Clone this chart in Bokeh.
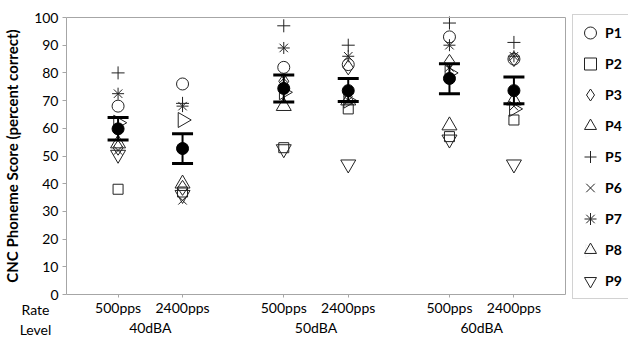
import numpy as np
from bokeh.plotting import figure
from bokeh.models import (FixedTicker, LinearAxis, Range1d, Label, Legend, LegendItem)
from bokeh.embed import file_html
from bokeh.resources import INLINE

# ---- data ----
rates = ["500pps", "2400pps", "500pps", "2400pps", "500pps", "2400pps"]
levels = ["40dBA", "50dBA", "60dBA"]
participants = ["P1", "P2", "P3", "P4", "P5", "P6", "P7", "P8", "P9"]
y_ticks = [0, 10, 20, 30, 40, 50, 60, 70, 80, 90, 100]

P1 = [68, 76, 82, 83, 93, 85]
P2 = [38, 37, 53, 67, 57, 63]
P3 = [53, 38.5, 77, 82, 84, 85]
P4 = [54.5, 40, 68, 70, 61, 70]
P5 = [80, 69, 97, 90, 98, 91]
P6 = [52, 34, 78, 70, 82, 68]
P7 = [72.5, 68, 89, 86, 90, 86]
P8 = [62, 63, 73, 70, 80, 67]
P9 = [50.5, 36, 52.5, 47, 56, 47]

mean_score = [59.8, 52.7, 74.4, 73.6, 78.0, 73.6]
upper_ci = [63.9, 58.0, 79.2, 78.0, 83.3, 78.5]
lower_ci = [55.8, 47.3, 69.5, 69.7, 72.5, 68.9]

# ---- layout (pixels on the canvas) ----
W, H = 628, 339
FL, FR, FT, FB = 66, 565, 17, 294          # plotting area edges
X_LO, X_HI = 0.2, 7.94                      # data x at plotting-area edges
Y_LO, Y_HI = 0, 100
GROUP_STEP = 2.57
xs = [round(g * GROUP_STEP + r + 1, 2) for g in range(len(levels)) for r in range(2)]
group_centers = [round(g * GROUP_STEP + 1.5, 2) for g in range(len(levels))]

ppx = (FR - FL) / (X_HI - X_LO)
ppy = (FB - FT) / (Y_HI - Y_LO)
def x_of(px):
    return X_LO + (px - FL) / ppx
def y_of(py):
    return Y_LO + (FB - py) / ppy

FONT = "Lato"
INK = "#222222"
GRAY = "#a6a6a6"

p = figure(width=W, height=H, output_backend="svg", toolbar_location=None,
           x_axis_type=None, y_axis_type=None,
           x_range=Range1d(x_of(0), x_of(W)), y_range=Range1d(y_of(H), y_of(0)),
           min_border=0)
p.min_border_left = p.min_border_right = p.min_border_top = p.min_border_bottom = 0
p.title.visible = False
p.outline_line_color = None
p.background_fill_color = "white"
p.border_fill_color = "white"

def style_text(ax):
    ax.major_label_text_font = FONT
    ax.major_label_text_font_size = "14px"
    ax.major_label_text_color = "black"
    ax.minor_tick_line_color = None

# y axis
yax = LinearAxis(fixed_location=X_LO, bounds=(Y_LO, Y_HI), ticker=FixedTicker(ticks=y_ticks))
style_text(yax)
yax.axis_label = "CNC Phoneme Score (percent correct)"
yax.axis_label_text_font = FONT
yax.axis_label_text_font_style = "bold"
yax.axis_label_text_font_size = "15px"
yax.axis_label_text_color = "black"
yax.axis_label_standoff = 10
yax.axis_line_color = GRAY
yax.major_tick_line_color = GRAY
yax.major_tick_in = 0
yax.major_tick_out = 4
yax.major_label_standoff = 4
p.add_layout(yax, "left")

# x axis (rate)
xax = LinearAxis(fixed_location=Y_LO, bounds=(X_LO, X_HI), ticker=FixedTicker(ticks=xs),
                 major_label_overrides={x: r for x, r in zip(xs, rates)})
style_text(xax)
xax.axis_line_color = GRAY
xax.major_tick_line_color = GRAY
xax.major_tick_in = 0
xax.major_tick_out = 3
xax.major_label_standoff = 1
p.add_layout(xax, "below")

# second x axis (level)
lax = LinearAxis(fixed_location=y_of(318), ticker=FixedTicker(ticks=group_centers),
                 major_label_overrides={x: l for x, l in zip(group_centers, levels)})
style_text(lax)
lax.axis_line_color = None
lax.major_tick_line_color = None
lax.major_tick_in = 0
lax.major_tick_out = 0
lax.major_label_standoff = 0
p.add_layout(lax, "below")

# top and right borders of the plotting area
tax = LinearAxis(fixed_location=Y_HI, bounds=(X_LO, X_HI), ticker=FixedTicker(ticks=[]))
rax = LinearAxis(fixed_location=X_HI, bounds=(Y_LO, Y_HI), ticker=FixedTicker(ticks=[]))
for ax in (tax, rax):
    ax.axis_line_color = GRAY
    ax.major_tick_line_color = None
    ax.minor_tick_line_color = None
    ax.major_label_text_font_size = "0px"
p.add_layout(tax, "above")
p.add_layout(rax, "right")

for txt, py in (("Rate", 309), ("Level", 329)):
    p.add_layout(Label(x=x_of(35), y=y_of(py), text=txt,
                       text_align="center", text_baseline="middle",
                       text_font=FONT, text_font_size="14px", text_color="black"))

# participant markers
series = [P1, P2, P3, P4, P5, P6, P7, P8, P9]
markers = ["circle", "square", "diamond", "triangle", "cross", "x", "asterisk", "triangle", "inverted_triangle"]
sizes = [12, 10, 15, 15, 13, 12, 12, 15, 15]
angles = [0, 0, 0, 0, 0, 0, 0, -np.pi / 2, 0]

# legend geometry (pixels)
LEG_X, LEG_BOTTOM = 572, 299
PAD, GW, ROW = 2, 30, 31
leg_top = LEG_BOTTOM - (2 * PAD + ROW * len(participants))

items = []
rotated = []
for i, (name, vals, mk, sz, ang) in enumerate(zip(participants, series, markers, sizes, angles)):
    r = p.scatter(xs, vals, marker=mk, size=sz, angle=ang, fill_color=None,
                  line_color=INK, line_width=1)
    items.append(LegendItem(label=name, renderers=[r]))
    if ang != 0:
        rotated.append((i, mk, ang))

# error bars and means
p.segment(xs, lower_ci, xs, upper_ci, line_color="black", line_width=2)
p.scatter(xs, upper_ci, marker="dash", size=21, line_color="black", line_width=3)
p.scatter(xs, lower_ci, marker="dash", size=21, line_color="black", line_width=3)
p.scatter(xs, mean_score, marker="circle", size=12, fill_color="black", line_color="black")

legend = Legend(items=items, location=(LEG_X, H - LEG_BOTTOM), level="underlay")
legend.border_line_color = GRAY
legend.label_text_font = FONT
legend.label_text_font_style = "bold"
legend.label_text_font_size = "14px"
legend.label_text_color = "black"
legend.glyph_width = GW
legend.glyph_height = ROW
legend.label_height = ROW
legend.label_width = 30
legend.spacing = 0
legend.padding = PAD
legend.margin = 0
legend.label_standoff = 0
p.add_layout(legend)

# the legend does not rotate markers: redraw rotated legend symbols on top
for i, mk, ang in rotated:
    cy = leg_top + PAD + ROW * i + ROW / 2
    cx = LEG_X + PAD + GW / 2
    p.scatter([x_of(cx)], [y_of(cy)], marker="square", size=20, fill_color="white",
              line_color=None)
    p.scatter([x_of(cx)], [y_of(cy)], marker=mk, size=13, angle=ang, fill_color=None,
              line_color=INK, line_width=1)

open("out.html", "w").write(file_html(p, INLINE))
